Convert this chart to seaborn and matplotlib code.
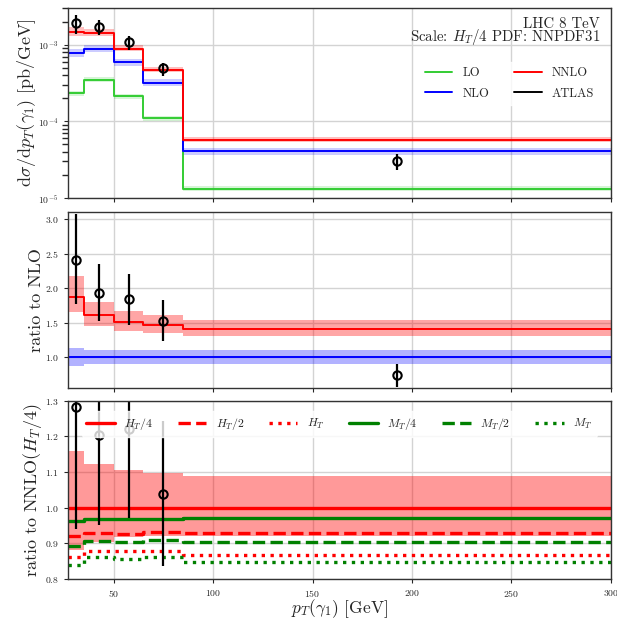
import numpy as np
import pandas as pd
import matplotlib
matplotlib.use('Agg')
import matplotlib.pyplot as plt
import seaborn as sns

# bin edges of leading photon pT [GeV]
edges = [27, 35, 50, 65, 85, 300]

# absolute cross sections [pb/GeV]
lo = [2.31e-4, 3.5e-4, 2.13e-4, 1.10e-4, 1.33e-5]
nlo = [7.87e-4, 8.87e-4, 5.89e-4, 3.2e-4, 4.1e-5]

# scale bands relative to own central value
lo_up = [1.08, 1.08, 1.08, 1.08, 1.08]
lo_dn = [0.93, 0.93, 0.93, 0.93, 0.93]
nlo_up = [1.13, 1.105, 1.105, 1.105, 1.105]
nlo_dn = [0.87, 0.9, 0.9, 0.9, 0.9]

# NNLO / NLO with band
nnlo_r = [1.877, 1.607, 1.51, 1.472, 1.414]
nnlo_r_up = [2.176, 1.805, 1.67, 1.615, 1.54]
nnlo_r_dn = [1.655, 1.453, 1.385, 1.357, 1.30]

# ATLAS / NLO
data_x = [31, 42.5, 57.5, 75, 192.5]
data_r = [2.41, 1.935, 1.843, 1.53, 0.734]
data_r_up = [3.07, 2.345, 2.205, 1.83, 0.907]
data_r_dn = [1.766, 1.53, 1.467, 1.23, 0.56]

# other scale choices / NNLO(H_T/4)
scales = ['$H_T/4$', '$H_T/2$', '$H_T$', '$M_T/4$', '$M_T/2$', '$M_T$']
ht4 = [1.0, 1.0, 1.0, 1.0, 1.0]
ht2 = [0.92, 0.929, 0.927, 0.933, 0.929]
ht1 = [0.861, 0.879, 0.879, 0.879, 0.866]
mt4 = [0.963, 0.967, 0.968, 0.969, 0.972]
mt2 = [0.893, 0.906, 0.904, 0.91, 0.905]
mt1 = [0.84, 0.862, 0.857, 0.862, 0.847]

sns.set_theme(style='ticks')
plt.rcParams.update({
    'font.family': 'serif',
    'font.serif': ['cmr10', 'DejaVu Serif'],
    'mathtext.fontset': 'cm',
    'axes.formatter.use_mathtext': True,
    'axes.unicode_minus': False,
    'axes.edgecolor': '#333333',
    'axes.linewidth': 1.0,
    'xtick.labelsize': 7,
    'ytick.labelsize': 7,
})

edges = np.array(edges)
nlo = np.array(nlo)
lo = np.array(lo)


def step(ax, vals, **kw):
    v = np.append(vals, vals[-1])
    sns.lineplot(x=edges, y=v, drawstyle='steps-post', ax=ax, sort=False,
                 estimator=None, **kw)


def band(ax, dn, up, color, alpha=0.35):
    ax.fill_between(edges, np.append(dn, dn[-1]), np.append(up, up[-1]),
                    step='post', color=color, alpha=alpha, lw=0)


def points(ax, x, y, dn, up, z=5):
    y = np.asarray(y)
    ax.errorbar(x, y, yerr=[y - np.asarray(dn), np.asarray(up) - y], fmt='o',
                mfc='none', mec='black', ecolor='black', ms=6, mew=1.5,
                elinewidth=1.6, zorder=z)


fig = plt.figure(figsize=(6.17, 6.21), dpi=100)
L, W = 0.110, 0.880
ax1 = fig.add_axes([L, 0.681, W, 0.306])
ax2 = fig.add_axes([L, 0.375, W, 0.283])
ax3 = fig.add_axes([L, 0.0676, W, 0.287])

nnlo = nlo * np.array(nnlo_r)
dat = nlo * np.array(data_r)

# --- top panel
band(ax1, lo * lo_dn, lo * lo_up, 'limegreen', 0.2)
band(ax1, nlo * nlo_dn, nlo * nlo_up, 'blue', 0.2)
band(ax1, nlo * nnlo_r_dn, nlo * nnlo_r_up, 'red', 0.25)
step(ax1, lo, color='#33cc33', lw=1.4, label='LO')
step(ax1, nlo, color='blue', lw=1.4, label='NLO')
step(ax1, nnlo, color='red', lw=1.4, label='NNLO')
points(ax1, data_x, dat, nlo * data_r_dn, nlo * data_r_up)
ax1.plot([], [], color='black', lw=1.4, label='ATLAS')
ax1.set_yscale('log')
ax1.set_ylim(1e-5, 3e-3)
ax1.set_ylabel(r'$\mathrm{d}\sigma/\mathrm{d}p_T(\gamma_1)$ [pb/GeV]', fontsize=13,
               labelpad=0.5)
ax1.text(0.98, 0.952, 'LHC 8 TeV\nScale: $H_T/4$ PDF: NNPDF31', transform=ax1.transAxes,
         ha='right', va='top', fontsize=10.7, linespacing=0.75)
ax1.legend(ncol=2, loc='upper right', bbox_to_anchor=(0.99, 0.75), fontsize=9,
           frameon=True, edgecolor='white', framealpha=0.8, handlelength=2.2,
           columnspacing=2.0, labelspacing=0.7)

# --- middle panel
band(ax2, nlo_dn, nlo_up, 'blue', 0.3)
band(ax2, nnlo_r_dn, nnlo_r_up, 'red', 0.35)
step(ax2, np.ones(5), color='blue', lw=1.4)
step(ax2, nnlo_r, color='red', lw=1.4)
points(ax2, data_x, data_r, data_r_dn, data_r_up)
ax2.set_ylim(0.55, 3.1)
ax2.set_yticks([1.0, 1.5, 2.0, 2.5, 3.0])
ax2.set_ylabel('ratio to NLO', fontsize=13, labelpad=0.5)

# --- bottom panel
nr = np.array(nnlo_r)
band(ax3, np.array(nnlo_r_dn) / nr, np.array(nnlo_r_up) / nr, 'red', 0.4)
for vals, col, ls, lab in [(ht4, 'red', '-', scales[0]), (ht2, 'red', '--', scales[1]),
                           (ht1, 'red', ':', scales[2]), (mt4, 'green', '-', scales[3]),
                           (mt2, 'green', '--', scales[4]), (mt1, 'green', ':', scales[5])]:
    step(ax3, vals, color=col, lw=2.4, linestyle=ls, label=lab)
points(ax3, data_x, np.array(data_r) / nr, np.array(data_r_dn) / nr,
       np.array(data_r_up) / nr, z=2.5)
ax3.set_ylim(0.8, 1.3)
ax3.set_yticks([0.8, 0.9, 1.0, 1.1, 1.2, 1.3])
ax3.set_ylabel(r'ratio to NNLO$(H_T/4)$', fontsize=13, labelpad=0.5)
ax3.set_xlabel(r'$p_T(\gamma_1)$ [GeV]', fontsize=12.5, labelpad=-1)
leg = ax3.legend(ncol=6, loc='upper center', bbox_to_anchor=(0.5, 0.975), fontsize=8.5,
                 frameon=True, edgecolor='white', framealpha=0.8, handlelength=2.4,
                 columnspacing=2.1)
leg.set_zorder(10)

for ax in (ax1, ax2, ax3):
    ax.set_xlim(27, 300)
    ax.set_xticks([50, 100, 150, 200, 250, 300])
    ax.grid(True, which='major', color='#d3d3d3', lw=1.0)
    ax.set_axisbelow(True)
    ax.tick_params(direction='out', length=3, width=0.8)
for ax in (ax1, ax2):
    ax.tick_params(labelbottom=False)

fig.savefig('out.png', dpi=100)
